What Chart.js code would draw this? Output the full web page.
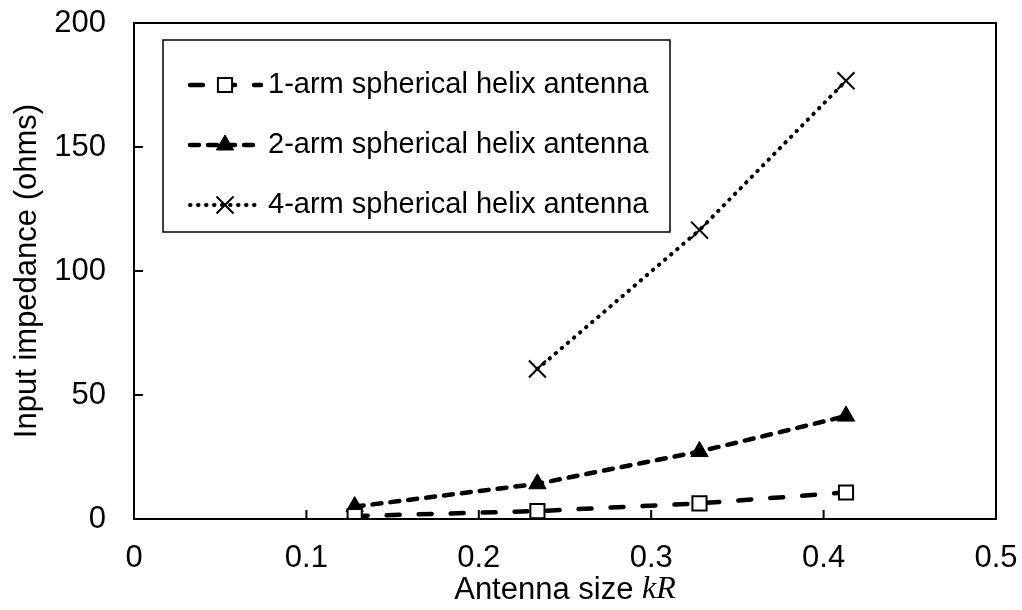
<!DOCTYPE html>
<html>
<head>
<meta charset="utf-8">
<script src="https://cdn.jsdelivr.net/npm/chart.js@4/dist/chart.umd.min.js"></script>
<style>
  body { margin: 0; background: #fff; }
  canvas { display: block; }
</style>
</head>
<body>
<canvas id="chart" width="1022" height="610"></canvas>
<script>
const kR = [0.128, 0.234, 0.328, 0.413];
const oneArm = [1.2, 3.2, 6.3, 10.7];
const twoArm = [5.0, 14.2, 27.2, 41.5];
const fourArmKR = [0.234, 0.328, 0.413];
const fourArm = [60.5, 116.5, 176.7];
const seriesLabels = ['1-arm spherical helix antenna', '2-arm spherical helix antenna', '4-arm spherical helix antenna'];

const FONT = '"Liberation Sans", Arial, sans-serif';
const AXIS_SIZE = 31;

const toPoints = (xs, ys) => xs.map((x, i) => ({ x: x, y: ys[i] }));

// frame, inside ticks, axis titles and boxed legend
const decorations = {
  id: 'decorations',
  afterDraw(chart) {
    const ctx = chart.ctx;
    const area = chart.chartArea;
    const xs = chart.scales.x;
    const ys = chart.scales.y;
    ctx.save();
    ctx.strokeStyle = '#000';
    ctx.lineWidth = 2;
    ctx.strokeRect(area.left, area.top, area.right - area.left, area.bottom - area.top);

    ctx.beginPath();
    xs.ticks.forEach(t => {
      const px = xs.getPixelForValue(t.value);
      ctx.moveTo(px, area.bottom);
      ctx.lineTo(px, area.bottom - 9);
    });
    ys.ticks.forEach(t => {
      const py = ys.getPixelForValue(t.value);
      ctx.moveTo(area.left, py);
      ctx.lineTo(area.left + 9, py);
    });
    ctx.stroke();

    // x title with italic kR
    ctx.fillStyle = '#000';
    ctx.textBaseline = 'middle';
    const part1 = 'Antenna size ';
    const part2 = 'kR';
    const sans = AXIS_SIZE + 'px ' + FONT;
    const serif = 'italic ' + (AXIS_SIZE + 1) + 'px "Liberation Serif", "Times New Roman", serif';
    ctx.font = sans;
    const w1 = ctx.measureText(part1).width;
    ctx.font = serif;
    const w2 = ctx.measureText(part2).width;
    const cx = (area.left + area.right) / 2;
    const sx = cx - (w1 + w2) / 2;
    ctx.textAlign = 'left';
    ctx.font = sans;
    ctx.fillText(part1, sx, 590);
    ctx.font = serif;
    ctx.fillText(part2, sx + w1, 590);

    // y title
    ctx.save();
    ctx.translate(27, (area.top + area.bottom) / 2);
    ctx.rotate(-Math.PI / 2);
    ctx.textAlign = 'center';
    ctx.font = sans;
    ctx.fillText('Input impedance (ohms)', 0, 0);
    ctx.restore();

    // legend box
    ctx.fillStyle = '#fff';
    ctx.fillRect(163, 40, 507, 192);
    ctx.lineWidth = 1.5;
    ctx.strokeRect(163, 40, 507, 192);
    const rows = [85, 145, 205];
    chart.data.datasets.forEach((ds, i) => {
      const y = rows[i];
      ctx.save();
      ctx.strokeStyle = '#000';
      ctx.lineWidth = ds.borderWidth;
      ctx.lineCap = 'round';
      ctx.setLineDash(ds.borderDash);
      ctx.beginPath();
      ctx.moveTo(190, y);
      ctx.lineTo(261, y);
      ctx.stroke();
      ctx.restore();
      ctx.save();
      ctx.fillStyle = ds.pointBackgroundColor;
      ctx.strokeStyle = '#000';
      ctx.lineWidth = ds.pointBorderWidth;
      Chart.helpers.drawPoint(ctx, {
        pointStyle: ds.pointStyle,
        radius: ds.pointRadius,
        rotation: 0,
        borderWidth: ds.pointBorderWidth
      }, 225, y);
      ctx.restore();
      ctx.fillStyle = '#000';
      ctx.textAlign = 'left';
      ctx.textBaseline = 'middle';
      ctx.font = '29px ' + FONT;
      ctx.fillText(ds.label, 268, y);
    });
    ctx.restore();
  }
};

new Chart(document.getElementById('chart'), {
  type: 'line',
  data: {
    datasets: [
      {
        label: seriesLabels[0],
        data: toPoints(kR, oneArm),
        borderColor: '#000',
        borderWidth: 4.5,
        borderDash: [13, 19],
        borderCapStyle: 'round',
        pointStyle: 'rect',
        pointRadius: 10,
        pointBackgroundColor: '#fff',
        pointBorderColor: '#000',
        pointBorderWidth: 2,
        fill: false,
        tension: 0
      },
      {
        label: seriesLabels[1],
        data: toPoints(kR, twoArm),
        borderColor: '#000',
        borderWidth: 4.5,
        borderDash: [9, 9],
        borderCapStyle: 'round',
        pointStyle: 'triangle',
        pointRadius: 10,
        pointBackgroundColor: '#000',
        pointBorderColor: '#000',
        pointBorderWidth: 1,
        fill: false,
        tension: 0
      },
      {
        label: seriesLabels[2],
        data: toPoints(fourArmKR, fourArm),
        borderColor: '#000',
        borderWidth: 4,
        borderDash: [0.5, 7.5],
        borderCapStyle: 'round',
        pointStyle: 'crossRot',
        pointRadius: 12,
        pointBackgroundColor: '#000',
        pointBorderColor: '#000',
        pointBorderWidth: 2,
        fill: false,
        tension: 0
      }
    ]
  },
  options: {
    responsive: false,
    devicePixelRatio: 1,
    animation: false,
    layout: { padding: { top: 23, right: 26, left: 0, bottom: 0 } },
    plugins: {
      legend: { display: false },
      tooltip: { enabled: false }
    },
    scales: {
      x: {
        type: 'linear',
        min: 0,
        max: 0.5,
        ticks: {
          stepSize: 0.1,
          padding: 21,
          color: '#000',
          font: { family: FONT, size: AXIS_SIZE },
          callback: v => String(+v.toFixed(1))
        },
        grid: { display: false, drawTicks: false },
        border: { display: false },
        afterFit: s => { s.height = 91; s.paddingLeft = 0; s.paddingRight = 0; }
      },
      y: {
        min: 0,
        max: 200,
        ticks: {
          stepSize: 50,
          padding: 28,
          color: '#000',
          font: { family: FONT, size: AXIS_SIZE }
        },
        grid: { display: false, drawTicks: false },
        border: { display: false },
        afterFit: s => { s.width = 134; s.paddingTop = 0; s.paddingBottom = 0; }
      }
    }
  },
  plugins: [decorations]
});
</script>
</body>
</html>
